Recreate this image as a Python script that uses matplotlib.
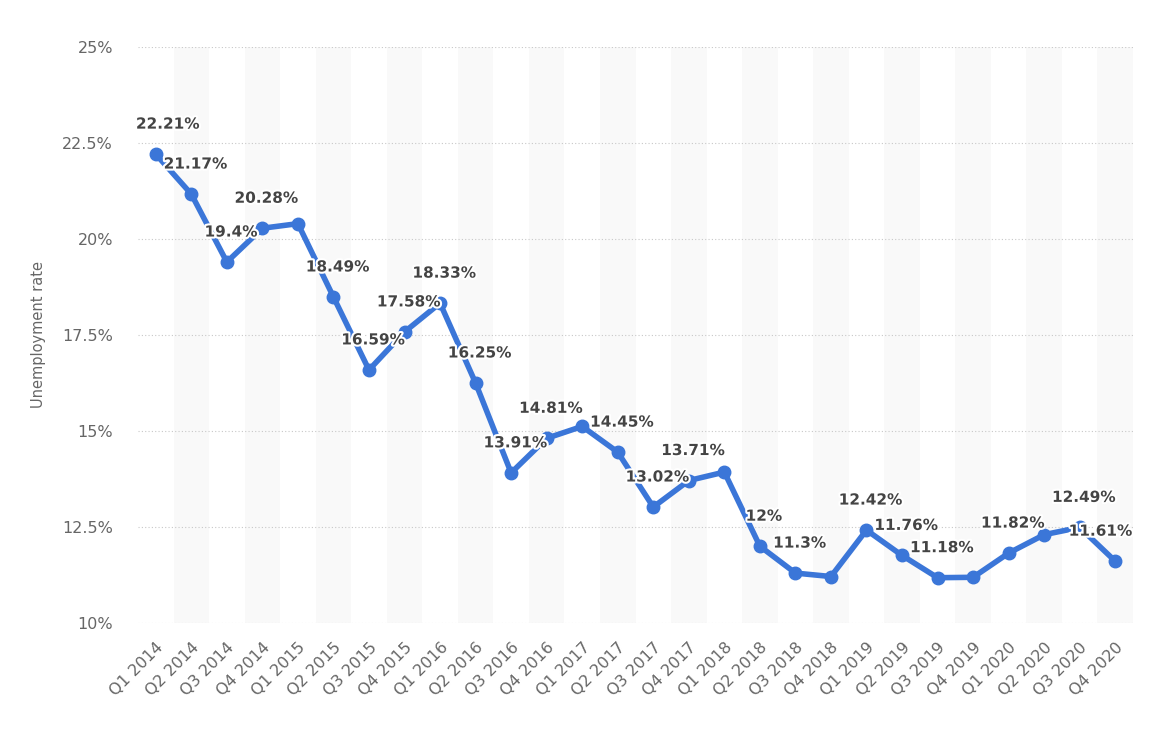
import matplotlib.pyplot as plt
import matplotlib.patheffects as pe
from matplotlib.ticker import FuncFormatter

# Datos
quarters = ['Q1 2014', 'Q2 2014', 'Q3 2014', 'Q4 2014',
            'Q1 2015', 'Q2 2015', 'Q3 2015', 'Q4 2015',
            'Q1 2016', 'Q2 2016', 'Q3 2016', 'Q4 2016',
            'Q1 2017', 'Q2 2017', 'Q3 2017', 'Q4 2017',
            'Q1 2018', 'Q2 2018', 'Q3 2018', 'Q4 2018',
            'Q1 2019', 'Q2 2019', 'Q3 2019', 'Q4 2019',
            'Q1 2020', 'Q2 2020', 'Q3 2020', 'Q4 2020']
rate = [22.21, 21.17, 19.4, 20.28,
        20.4, 18.49, 16.59, 17.58,
        18.33, 16.25, 13.91, 14.81,
        15.12, 14.45, 13.02, 13.71,
        13.93, 12.0, 11.3, 11.21,
        12.42, 11.76, 11.18, 11.19,
        11.82, 12.3, 12.49, 11.61]
# etiquetas que se ven en el original (las demás quedan ocultas por solaparse)
show_label = [1, 1, 1, 1, 0, 1, 1, 1,
              1, 1, 1, 1, 0, 1, 1, 1,
              0, 1, 1, 0, 1, 1, 1, 0,
              1, 0, 1, 1]
yticks = [10, 12.5, 15, 17.5, 20, 22.5, 25]

fig = plt.figure(figsize=(11.6, 7.36), dpi=100)
ax = fig.add_axes([138 / 1160, 113 / 736, 995 / 1160, 576 / 736])

x = list(range(len(quarters)))

# bandas alternas de fondo
for i in x:
    if i % 2 == 1:
        ax.axvspan(i - 0.5, i + 0.5, color='#f9f9f9', zorder=0, lw=0)

ax.plot(x, rate, color='#3b76d8', lw=4, marker='o', markersize=9,
        solid_joinstyle='round', zorder=3)

n = len(rate)
for xi, v, s in zip(x, rate, show_label):
    if not s:
        continue
    dx = 4
    # como en el original, las etiquetas de los extremos se empujan hacia dentro
    if xi == 0:
        dx = 12
    elif xi == n - 1:
        dx = -15
    ax.annotate(f'{v:g}%', (xi, v), xytext=(dx, 30), textcoords='offset pixels',
                ha='center', va='center', fontsize=11, fontweight='bold',
                color='#444444', zorder=4,
                path_effects=[pe.withStroke(linewidth=3, foreground='white')])

ax.set_xlim(-0.5, n - 0.5)
ax.set_ylim(10, 25)
ax.set_yticks(yticks)
ax.yaxis.set_major_formatter(FuncFormatter(lambda v, p: f'{v:g}%'))
ax.set_xticks(x)
ax.set_xticklabels(quarters, rotation=45, ha='right', rotation_mode='anchor')
ax.tick_params(axis='both', length=0, labelsize=11.5, colors='#666666')
ax.tick_params(axis='x', pad=12)
ax.tick_params(axis='y', pad=18)
ax.grid(axis='y', color='#c8c8c8', linestyle=(0, (1, 2)), lw=0.8, zorder=1)
for sp in ax.spines.values():
    sp.set_visible(False)

ax.set_ylabel('Unemployment rate', fontsize=10.5, color='#666666')
ax.yaxis.set_label_coords(-92 / 995, 0.5)

fig.savefig('out.png', dpi=100)
